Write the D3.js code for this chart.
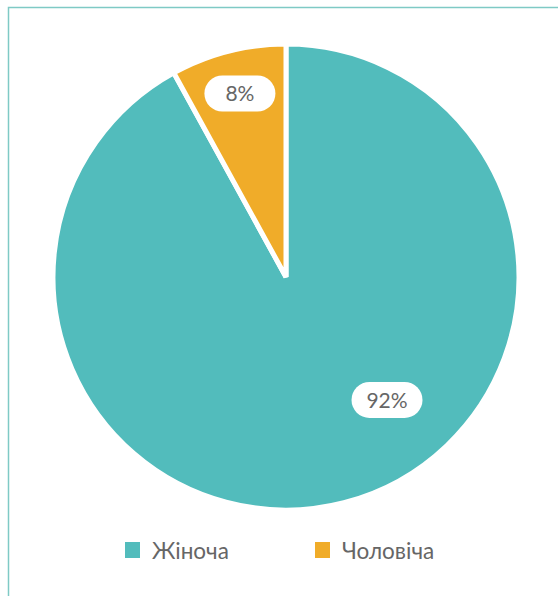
<!DOCTYPE html>
<html>
<head>
<meta charset="utf-8">
<script src="https://cdn.jsdelivr.net/npm/d3@7"></script>
<style>
  html, body { margin: 0; padding: 0; background: #fff; }
  svg { display: block; font-family: Lato, "Open Sans", sans-serif; }
</style>
</head>
<body>
<div id="chart"></div>
<script>
// chart data
var categories = ['Жіноча', 'Чоловіча'];
var shares = [92, 8];
var labels = ['92%', '8%'];
var colors = ['#52bcbc', '#f0ac29'];

var width = 558, height = 596;
var cx = 286, cy = 277, radius = 233;

// where the data labels sit (fraction of radius, angle in degrees from 12 o'clock)
var labelPlace = [
  {r: 0.683, a: 140.6},
  {r: 0.812, a: -14.1}
];

var svg = d3.select('#chart').append('svg')
    .attr('width', width)
    .attr('height', height);

// frame, runs off the right and bottom edges
svg.append('rect')
    .attr('x', 8.5).attr('y', 7.5)
    .attr('width', 600).attr('height', 700)
    .attr('fill', 'none')
    .attr('stroke', '#7fcac5')
    .attr('stroke-width', 1.5);

var pie = d3.pie().sort(null).value(function (d) { return d; });
var arcs = pie(shares);

var arc = d3.arc().innerRadius(0).outerRadius(radius);

var g = svg.append('g').attr('transform', 'translate(' + cx + ',' + cy + ')');

g.selectAll('path.slice')
    .data(arcs)
    .enter().append('path')
        .attr('class', 'slice')
        .attr('d', arc)
        .attr('fill', function (d, i) { return colors[i]; })
        .attr('stroke', '#fff')
        .attr('stroke-width', 5)
        .attr('stroke-linejoin', 'miter');

// data labels in white pills
var lab = g.selectAll('g.lab')
    .data(arcs)
    .enter().append('g')
        .attr('class', 'lab')
        .attr('transform', function (d, i) {
            var p = labelPlace[i];
            var a = p.a * Math.PI / 180;
            return 'translate(' + (Math.sin(a) * radius * p.r) + ',' + (-Math.cos(a) * radius * p.r) + ')';
        });

lab.append('rect')
    .attr('x', -35.5).attr('y', -18)
    .attr('width', 71).attr('height', 36)
    .attr('rx', 18).attr('ry', 18)
    .attr('fill', '#fff');

lab.append('text')
    .attr('text-anchor', 'middle')
    .attr('dy', '0.36em')
    .attr('font-size', 21)
    .attr('fill', '#666')
    .text(function (d, i) { return labels[i]; });

// legend
var legendX = [125, 315];
var legend = svg.selectAll('g.legend')
    .data(categories)
    .enter().append('g')
        .attr('class', 'legend')
        .attr('transform', function (d, i) { return 'translate(' + legendX[i] + ',542)'; });

legend.append('rect')
    .attr('width', 15).attr('height', 16)
    .attr('fill', function (d, i) { return colors[i]; });

legend.append('text')
    .attr('x', 27).attr('y', 17.3)
    .attr('font-size', 22.5)
    .attr('fill', '#666')
    .text(function (d) { return d; });
</script>
</body>
</html>
